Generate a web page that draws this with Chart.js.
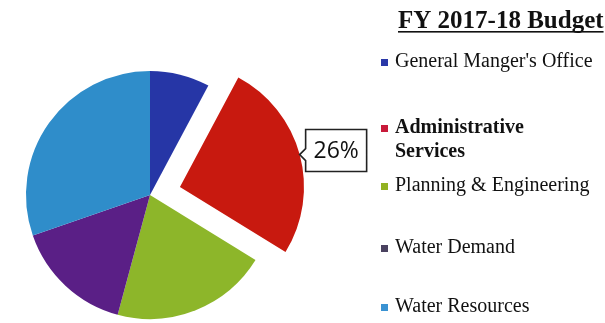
<!DOCTYPE html>
<html>
<head>
<meta charset="utf-8">
<script src="https://cdn.jsdelivr.net/npm/chart.js@4.4.1/dist/chart.umd.min.js"></script>
<style>
  html, body { margin: 0; padding: 0; background: #ffffff; }
  #wrap { position: relative; width: 605px; height: 323px; }
</style>
</head>
<body>
<div id="wrap"><canvas id="budget" width="605" height="323"></canvas></div>
<script>
// FY 2017-18 budget share by department (percent of total)
const chartTitle = 'FY 2017-18 Budget';
const categories = [
  "General Manger's Office",
  'Administrative Services',
  'Planning & Engineering',
  'Water Demand',
  'Water Resources'
];
const shares = [7.8, 26, 20.4, 15.5, 30.3];
const sliceColors = ['#2636a6', '#c8190f', '#8db62a', '#5a1f86', '#2f8dca'];
const markerColors = ['#2a38a8', '#c81a3a', '#92b222', '#4a4260', '#3a92d2'];
const highlighted = 1;   // slice pulled out and labelled

// Legend layout: baseline of each entry (first line), bold flag, wrap
const legendRows = [
  { y: 67,  bold: false, lines: [categories[0]] },
  { y: 133, bold: true,  lines: categories[1].split(' ') },
  { y: 191, bold: false, lines: [categories[2]] },
  { y: 253, bold: false, lines: [categories[3]] },
  { y: 312, bold: false, lines: [categories[4]] }
];

const PULL = 124; // arc offset option (drawn as a quarter of this)

const overlay = {
  id: 'budgetOverlay',
  afterDraw(chart) {
    const ctx = chart.ctx;
    ctx.save();

    // Title, underlined
    ctx.fillStyle = '#111111';
    ctx.font = 'bold 25px "Liberation Serif"';
    ctx.textBaseline = 'alphabetic';
    ctx.textAlign = 'left';
    const tx = 398, ty = 28;
    ctx.fillText(chartTitle, tx, ty);
    const tw = ctx.measureText(chartTitle).width;
    ctx.fillRect(tx, ty + 3, tw, 1.6);

    // Legend
    legendRows.forEach((row, i) => {
      ctx.fillStyle = markerColors[i];
      ctx.fillRect(381, row.y - 8, 7, 7);
      ctx.fillStyle = '#111111';
      ctx.font = (row.bold ? 'bold ' : '') + '20px "Liberation Serif"';
      row.lines.forEach((ln, k) => ctx.fillText(ln, 395, row.y + k * 24));
    });

    // Callout with the highlighted share
    const arc = chart.getDatasetMeta(0).data[highlighted];
    const p = arc.getProps(['x', 'y', 'startAngle', 'endAngle', 'outerRadius']);
    const mid = (p.startAngle + p.endAngle) / 2;
    const reach = p.outerRadius + PULL / 4;
    const px = p.x + Math.cos(mid) * reach;
    const py = p.y + Math.sin(mid) * reach;
    const total = shares.reduce((a, b) => a + b, 0);
    const label = Math.round(shares[highlighted] / total * 100) + '%';

    const bx = px + 6, bw = 61, bh = 42, by = py - 25;
    ctx.beginPath();
    ctx.moveTo(bx, by);
    ctx.lineTo(bx + bw, by);
    ctx.lineTo(bx + bw, by + bh);
    ctx.lineTo(bx, by + bh);
    ctx.lineTo(bx, py + 6);
    ctx.lineTo(px, py);
    ctx.lineTo(bx, py - 6);
    ctx.closePath();
    ctx.fillStyle = '#ffffff';
    ctx.fill();
    ctx.strokeStyle = '#222222';
    ctx.lineWidth = 1.6;
    ctx.stroke();

    ctx.fillStyle = '#111111';
    ctx.font = '500 23px "Open Sans"';
    ctx.textAlign = 'center';
    ctx.textBaseline = 'middle';
    ctx.fillText(label, bx + bw / 2, by + bh / 2 + 1);

    ctx.restore();
  }
};

new Chart(document.getElementById('budget'), {
  type: 'pie',
  data: {
    labels: categories,
    datasets: [{
      data: shares,
      backgroundColor: sliceColors,
      borderWidth: 0,
      radius: 124,
      offset: shares.map((v, i) => (i === highlighted ? PULL : 0))
    }]
  },
  options: {
    responsive: false,
    animation: false,
    layout: { padding: { left: 26, right: 331, top: 71, bottom: 4 } },
    plugins: {
      legend: { display: false },
      tooltip: { enabled: false },
      title: { display: false }
    }
  },
  plugins: [overlay]
});
</script>
</body>
</html>
